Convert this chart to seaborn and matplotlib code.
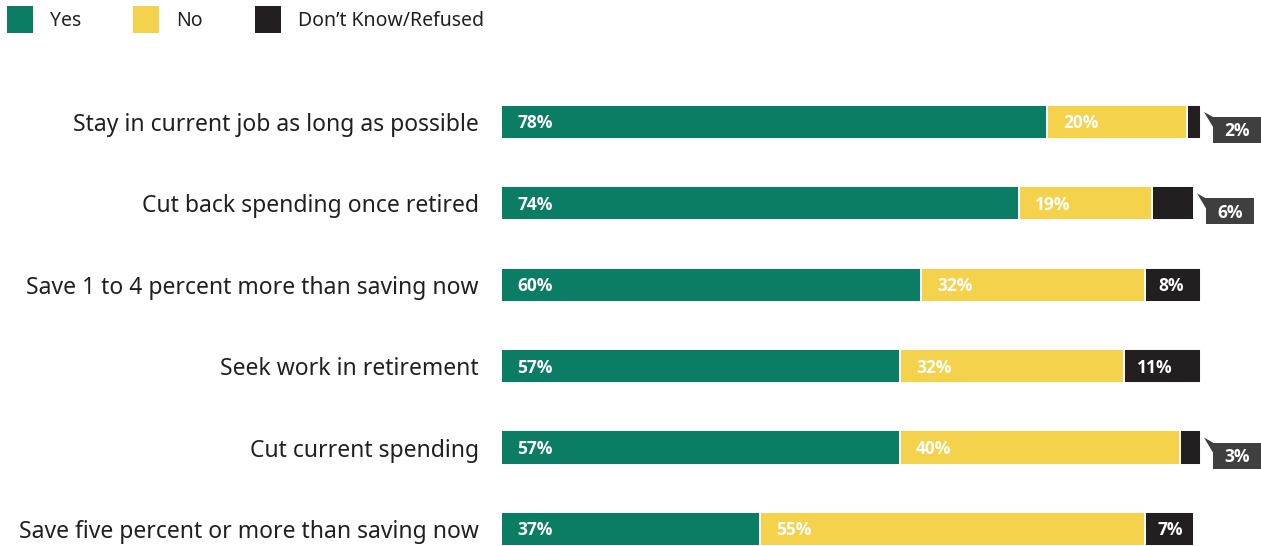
import numpy as np
import pandas as pd
import seaborn as sns
import matplotlib.pyplot as plt
from matplotlib.patches import Polygon, Patch

# Survey responses (percent of respondents)
questions = [
    "Stay in current job as long as possible",
    "Cut back spending once retired",
    "Save 1 to 4 percent more than saving now",
    "Seek work in retirement",
    "Cut current spending",
    "Save five percent or more than saving now",
]
yes = [78, 74, 60, 57, 57, 37]
no = [20, 19, 32, 32, 40, 55]
dont_know = [2, 6, 8, 11, 3, 7]
legend_labels = ["Yes", "No", "Don\u2019t Know/Refused"]

GREEN = "#0b7d64"
YELLOW = "#f5d24b"
BLACK = "#231f20"
CALLOUT = "#3f3f3f"
TEXT = "#231f20"

sns.set_theme(style="white")
plt.rcParams["font.family"] = ["Noto Sans", "DejaVu Sans"]
BOLD_FAMILY = ["Open Sans", "Roboto", "DejaVu Sans"]

W, H = 1261, 546
fig = plt.figure(figsize=(W / 100, H / 100), dpi=100)
ax = fig.add_axes([501 / W, 0, 760 / W, 506 / H])

df = pd.DataFrame({"question": questions, "Yes": yes, "No": no, "DK": dont_know})
df["yes_no"] = df["Yes"] + df["No"]
df["total"] = df["yes_no"] + df["DK"]

# Stacked bars: draw cumulative totals from the back to the front
for col, color in [("total", BLACK), ("yes_no", YELLOW), ("Yes", GREEN)]:
    sns.barplot(data=df, x=col, y="question", orient="h", order=questions,
                color=color, saturation=1, width=0.42,
                edgecolor="white", linewidth=1.4, ax=ax)

px = 7.0          # pixels per percent
row = 81.4        # pixels per row
ax.set_xlim(0, 760 / px)
ax.set_ylim(5.209, -1.007)

lab_kw = dict(color="white", fontsize=12.5, fontweight="bold",
              family=BOLD_FAMILY, va="center", ha="left")
dy = 1.5 / row    # nudge labels down to the optical centre of the bar
for i, r in df.iterrows():
    ax.text(16 / px, i + dy, f"{r['Yes']}%", **lab_kw)
    ax.text(r["Yes"] + 16 / px, i + dy, f"{r['No']}%", **lab_kw)
    end = r["total"]
    if r["DK"] >= 7:
        ax.text(r["yes_no"] + 13 / px, i + dy, f"{r['DK']}%", **lab_kw)
    else:
        # callout box with a pointer for the thin segment
        bx0 = end + 12 / px
        bx1 = bx0 + 48 / px
        by0 = i - 5 / row
        by1 = i + 21 / row
        tip = (end + 3 / px, i - 10 / row)
        ax.add_patch(Polygon([tip, (bx0, by0), (bx0, by0 + 10 / row)],
                             closed=True, facecolor=CALLOUT, edgecolor="none",
                             clip_on=False))
        ax.add_patch(Polygon([(bx0, by0), (bx1, by0), (bx1, by1), (bx0, by1)],
                             closed=True, facecolor=CALLOUT, edgecolor="none",
                             clip_on=False))
        ax.text((bx0 + bx1) / 2, (by0 + by1) / 2 + dy, f"{r['DK']}%",
                color="white", fontsize=12.5, fontweight="bold",
                family=BOLD_FAMILY, ha="center", va="center")

ax.set_xlabel("")
ax.set_ylabel("")
ax.set_xticks([])
ax.tick_params(axis="y", length=0, pad=16, labelsize=16.5, labelcolor=TEXT)
for s in ax.spines.values():
    s.set_visible(False)

handles = [Patch(facecolor=c, edgecolor="none") for c in (GREEN, YELLOW, BLACK)]
fig.legend(handles, legend_labels, loc="upper left",
           bbox_to_anchor=(7 / W, 1 - 6 / H), ncol=3, frameon=False,
           fontsize=14, handlelength=1.34, handleheight=1.76,
           handletextpad=0.85, columnspacing=2.7, borderaxespad=0,
           borderpad=0, labelcolor=TEXT)

fig.savefig("out.png", dpi=100)
